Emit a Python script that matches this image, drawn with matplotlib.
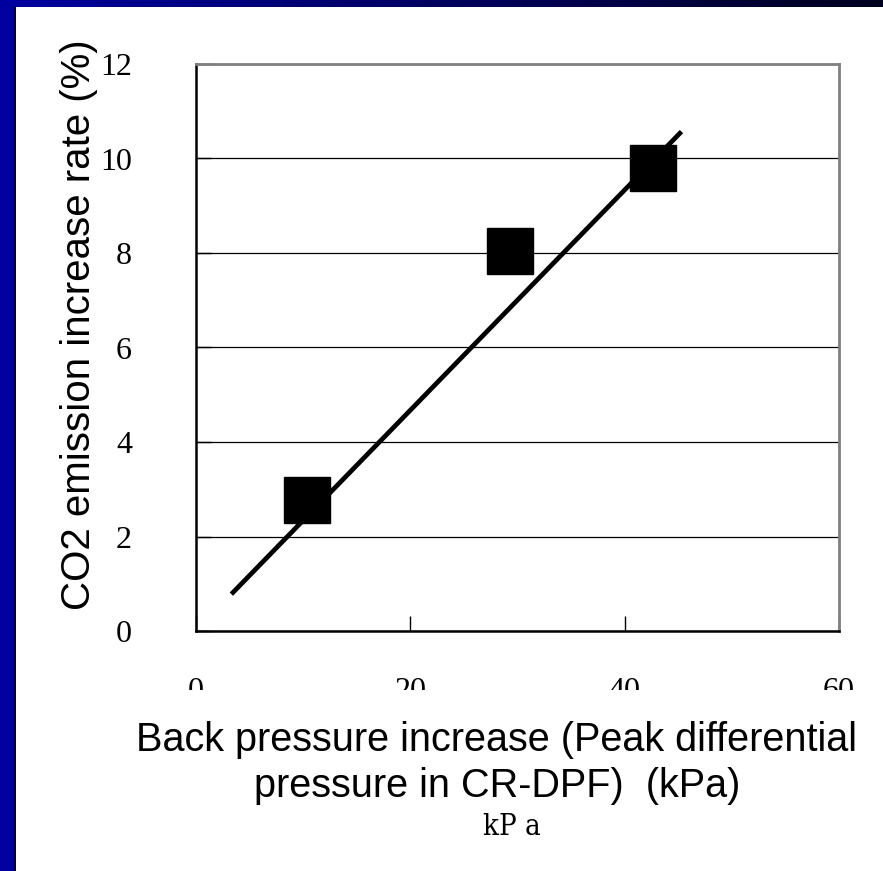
import numpy as np
import matplotlib
matplotlib.use("Agg")
import matplotlib.pyplot as plt
from matplotlib.patches import Rectangle

# data
pressure = [10.4, 29.3, 42.6]          # kPa
co2_rate = [2.77, 8.05, 9.79]          # %
trend_x = [3.3, 45.3]
trend_y = [0.78, 10.57]
x_ticks = [0, 20, 40, 60]
y_ticks = [0, 2, 4, 6, 8, 10, 12]

W, H = 883, 871
fig = plt.figure(figsize=(W / 100, H / 100), dpi=100)
fig.patch.set_facecolor("white")

# slide decoration: blue left bar and dark gradient strip on top
fig.add_artist(Rectangle((0, 0), 14 / W, 1, transform=fig.transFigure,
                         facecolor="#0000a0", edgecolor="none", zorder=0))
fig.add_artist(Rectangle((14 / W, 0), 2 / W, 1, transform=fig.transFigure,
                         facecolor="#000040", edgecolor="none", zorder=0))
top = fig.add_axes([0, 1 - 7 / H, 1, 7 / H])
grad = np.linspace(0, 1, 256).reshape(1, -1)
top.imshow(grad, aspect="auto", cmap=matplotlib.colors.LinearSegmentedColormap.from_list(
    "band", ["#0000a0", "#000060", "#000020"]))
top.axis("off")

ax = fig.add_axes([196 / W, (H - 631) / H, (839 - 196) / W, (631 - 64) / H])
ax.set_xlim(0, 60)
ax.set_ylim(0, 12)

ax.plot(trend_x, trend_y, color="black", lw=3.4, solid_capstyle="butt", zorder=3)
ax.plot(pressure, co2_rate, "s", color="black", markersize=33, zorder=4)

ax.set_yticks(y_ticks)
ax.set_xticks(x_ticks)
ax.yaxis.grid(True, color="black", lw=0.9)
ax.set_axisbelow(True)

ax.tick_params(direction="in", length=11, width=1, color="black")
ax.tick_params(axis="y", pad=46)
ax.tick_params(axis="x", pad=33)
tick_font = dict(family="Liberation Serif", size=23)
for lab in ax.get_yticklabels() + ax.get_xticklabels():
    lab.set_fontproperties(matplotlib.font_manager.FontProperties(**tick_font))

for side in ["top", "right"]:
    ax.spines[side].set_color("#808080")
    ax.spines[side].set_linewidth(2)
for side in ["left", "bottom"]:
    ax.spines[side].set_color("black")
    ax.spines[side].set_linewidth(1.8)

ax.set_ylabel("CO2 emission increase rate (%)", family="Liberation Sans",
              fontsize=29)
ax.yaxis.set_label_coords(-0.152, 0.54)

# white box hiding the lower half of the x tick labels, then the caption
fig.add_artist(Rectangle((16 / W, (H - 850) / H), 1 - 16 / W, 160 / H,
                         transform=fig.transFigure, facecolor="white",
                         edgecolor="none", zorder=5))
fig.text(497 / W, 1 - 763 / H,
         "Back pressure increase (Peak differential\npressure in CR-DPF)  (kPa)",
         ha="center", va="center", family="Liberation Sans", fontsize=28.5,
         linespacing=1.25, zorder=6)
fig.text(512 / W, 1 - 827 / H, "kP a", ha="center", va="center",
         family="DejaVu Serif", stretch="condensed", fontsize=21, zorder=6)

fig.savefig("out.png", dpi=100)
